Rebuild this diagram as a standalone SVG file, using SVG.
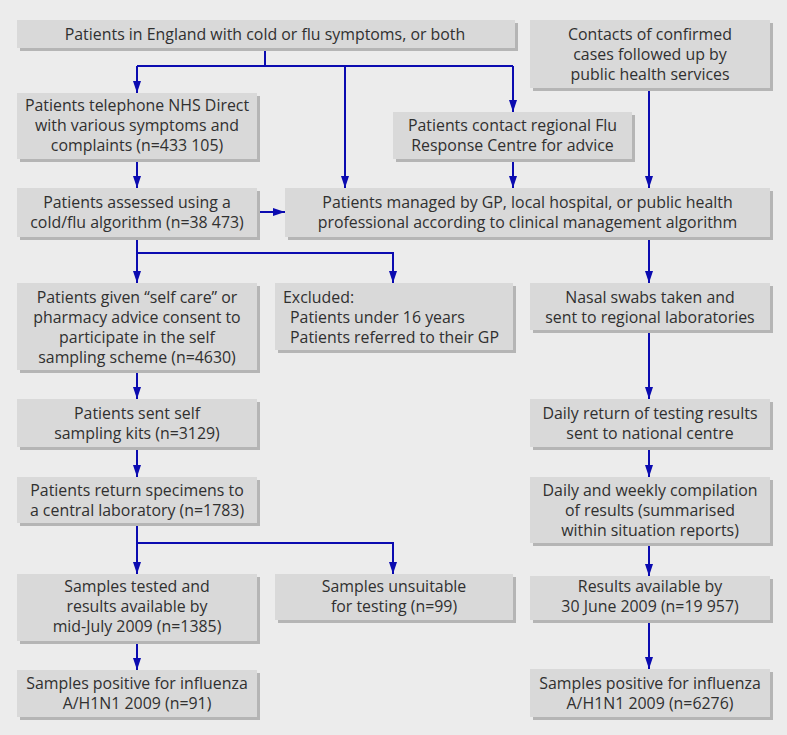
<svg xmlns="http://www.w3.org/2000/svg" width="787" height="735" viewBox="0 0 787 735">
<defs>
<style>
.bg{fill:#ececec}
.box{fill:#d9d9d9}
.sh{fill:#b5b5b5}
text{font-family:"Open Sans","Noto Sans","Liberation Sans",sans-serif;font-size:15.9px;fill:#303030}
.c{text-anchor:middle}
.con{fill:none;stroke:#0b0bb0;stroke-width:2}
</style>
<marker id="ah" viewBox="0 0 12 8" refX="12" refY="4" markerWidth="12" markerHeight="8" orient="auto" markerUnits="userSpaceOnUse">
<path d="M0,0 L12,4 L0,8 z" fill="#0b0bb0"/>
</marker>
</defs>
<rect class="bg" x="0" y="0" width="787" height="735"/>

<g id="connectors">
<path class="con" d="M265,48 V66 M137,66 H513"/>
<path class="con" d="M137,66 V93" marker-end="url(#ah)"/>
<path class="con" d="M345,66 V188" marker-end="url(#ah)"/>
<path class="con" d="M513,66 V112" marker-end="url(#ah)"/>
<path class="con" d="M513,159 V188" marker-end="url(#ah)"/>
<path class="con" d="M649,88 V188" marker-end="url(#ah)"/>
<path class="con" d="M137,159 V188" marker-end="url(#ah)"/>
<path class="con" d="M257,212 H285" marker-end="url(#ah)"/>
<path class="con" d="M137,237 V283" marker-end="url(#ah)"/>
<path class="con" d="M137,253 H393 V283" marker-end="url(#ah)"/>
<path class="con" d="M649,237 V283" marker-end="url(#ah)"/>
<path class="con" d="M137,370 V399" marker-end="url(#ah)"/>
<path class="con" d="M649,330 V399" marker-end="url(#ah)"/>
<path class="con" d="M137,447 V477" marker-end="url(#ah)"/>
<path class="con" d="M649,447 V477" marker-end="url(#ah)"/>
<path class="con" d="M137,523 V574" marker-end="url(#ah)"/>
<path class="con" d="M137,543 H393 V574" marker-end="url(#ah)"/>
<path class="con" d="M649,543 V576" marker-end="url(#ah)"/>
<path class="con" d="M137,641 V670" marker-end="url(#ah)"/>
<path class="con" d="M649,620 V669" marker-end="url(#ah)"/>
</g>

<g id="n1">
<rect class="sh" x="20" y="23" width="498" height="28"/><rect class="box" x="17" y="20" width="498" height="28"/>
<text class="c" x="265" y="39.5">Patients in England with cold or flu symptoms, or both</text>
</g>
<g id="n2">
<rect class="sh" x="533" y="23" width="240" height="68"/><rect class="box" x="530" y="20" width="240" height="68"/>
<text class="c" x="650" y="39.5">Contacts of confirmed</text>
<text class="c" x="650" y="59.5">cases followed up by</text>
<text class="c" x="650" y="79.5">public health services</text>
</g>
<g id="n3">
<rect class="sh" x="20" y="96" width="240" height="66"/><rect class="box" x="17" y="93" width="240" height="66"/>
<text class="c" x="137" y="110.5">Patients telephone NHS Direct</text>
<text class="c" x="137" y="130.5">with various symptoms and</text>
<text class="c" x="137" y="150.5">complaints (n=433 105)</text>
</g>
<g id="n4">
<rect class="sh" x="396" y="115" width="239" height="47"/><rect class="box" x="393" y="112" width="239" height="47"/>
<text class="c" x="512.5" y="130.5">Patients contact regional Flu</text>
<text class="c" x="512.5" y="150.5">Response Centre for advice</text>
</g>
<g id="n5">
<rect class="sh" x="20" y="191" width="240" height="49"/><rect class="box" x="17" y="188" width="240" height="49"/>
<text class="c" x="137" y="207.5">Patients assessed using a</text>
<text class="c" x="137" y="227.5">cold/flu algorithm (n=38 473)</text>
</g>
<g id="n6">
<rect class="sh" x="288" y="191" width="485" height="49"/><rect class="box" x="285" y="188" width="485" height="49"/>
<text class="c" x="527.5" y="207.5">Patients managed by GP, local hospital, or public health</text>
<text class="c" x="527.5" y="227.5">professional according to clinical management algorithm</text>
</g>
<g id="n7">
<rect class="sh" x="20" y="286" width="240" height="87"/><rect class="box" x="17" y="283" width="240" height="87"/>
<text class="c" x="137" y="302.5">Patients given “self care” or</text>
<text class="c" x="137" y="322.5">pharmacy advice consent to</text>
<text class="c" x="137" y="342.5">participate in the self</text>
<text class="c" x="137" y="362.5">sampling scheme (n=4630)</text>
</g>
<g id="n8">
<rect class="sh" x="278" y="286" width="238" height="67"/><rect class="box" x="275" y="283" width="238" height="67"/>
<text x="283" y="302.5">Excluded:</text>
<text x="290" y="322.5">Patients under 16 years</text>
<text x="290" y="342.5">Patients referred to their GP</text>
</g>
<g id="n9">
<rect class="sh" x="533" y="286" width="240" height="47"/><rect class="box" x="530" y="283" width="240" height="47"/>
<text class="c" x="650" y="302.5">Nasal swabs taken and</text>
<text class="c" x="650" y="322.5">sent to regional laboratories</text>
</g>
<g id="n10">
<rect class="sh" x="20" y="402" width="240" height="48"/><rect class="box" x="17" y="399" width="240" height="48"/>
<text class="c" x="137" y="418.5">Patients sent self</text>
<text class="c" x="137" y="438.5">sampling kits (n=3129)</text>
</g>
<g id="n11">
<rect class="sh" x="533" y="402" width="240" height="48"/><rect class="box" x="530" y="399" width="240" height="48"/>
<text class="c" x="650" y="418.5">Daily return of testing results</text>
<text class="c" x="650" y="438.5">sent to national centre</text>
</g>
<g id="n12">
<rect class="sh" x="20" y="480" width="240" height="46"/><rect class="box" x="17" y="477" width="240" height="46"/>
<text class="c" x="137" y="495.5">Patients return specimens to</text>
<text class="c" x="137" y="515.5">a central laboratory (n=1783)</text>
</g>
<g id="n13">
<rect class="sh" x="533" y="480" width="240" height="66"/><rect class="box" x="530" y="477" width="240" height="66"/>
<text class="c" x="650" y="495.5">Daily and weekly compilation</text>
<text class="c" x="650" y="515.5">of results (summarised</text>
<text class="c" x="650" y="535.5">within situation reports)</text>
</g>
<g id="n14">
<rect class="sh" x="20" y="577" width="240" height="67"/><rect class="box" x="17" y="574" width="240" height="67"/>
<text class="c" x="137" y="591.5">Samples tested and</text>
<text class="c" x="137" y="611.5">results available by</text>
<text class="c" x="137" y="631.5">mid-July 2009 (n=1385)</text>
</g>
<g id="n15">
<rect class="sh" x="278" y="577" width="238" height="46"/><rect class="box" x="275" y="574" width="238" height="46"/>
<text class="c" x="394" y="591.5">Samples unsuitable</text>
<text class="c" x="394" y="611.5">for testing (n=99)</text>
</g>
<g id="n16">
<rect class="sh" x="533" y="579" width="240" height="44"/><rect class="box" x="530" y="576" width="240" height="44"/>
<text class="c" x="650" y="591.5">Results available by</text>
<text class="c" x="650" y="611.5">30 June 2009 (n=19 957)</text>
</g>
<g id="n17">
<rect class="sh" x="20" y="673" width="240" height="47"/><rect class="box" x="17" y="670" width="240" height="47"/>
<text class="c" x="137" y="688.5">Samples positive for influenza</text>
<text class="c" x="137" y="708.5">A/H1N1 2009 (n=91)</text>
</g>
<g id="n18">
<rect class="sh" x="533" y="672" width="240" height="48"/><rect class="box" x="530" y="669" width="240" height="48"/>
<text class="c" x="650" y="688.5">Samples positive for influenza</text>
<text class="c" x="650" y="708.5">A/H1N1 2009 (n=6276)</text>
</g>
</svg>
